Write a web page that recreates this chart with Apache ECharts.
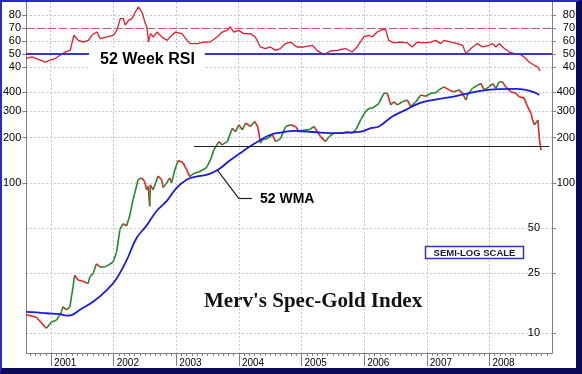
<!DOCTYPE html>
<html><head><meta charset="utf-8">
<script src="https://cdn.jsdelivr.net/npm/echarts@6/dist/echarts.min.js"></script>
<style>
html,body{margin:0;padding:0;background:#fff;}
#wrap{position:relative;width:582px;height:374px;overflow:hidden;background:#fff;}
#chart{position:absolute;left:0;top:0;width:582px;height:374px;}
#frame{position:absolute;left:0;top:0;width:582px;height:374px;box-sizing:border-box;border-left:2px solid #2a2ac8;border-top:2px solid #2a2ac8;border-right:6px solid #0b0b55;border-bottom:6px solid #0b0b55;pointer-events:none;}
</style></head>
<body><div id="wrap"><div id="chart"></div><div id="frame"></div></div>
<script>
// ---- data (decimal years) ----
const priceDates = [2000.605,2000.765,2000.925,2001.005,2001.085,2001.165,2001.19,2001.245,2001.30,2001.35,2001.375,2001.43,2001.51,2001.59,2001.62,2001.67,2001.725,2001.78,2001.855,2001.91,2001.99,2002.045,2002.10,2002.15,2002.205,2002.255,2002.31,2002.39,2002.445,2002.495,2002.525,2002.55,2002.575,2002.585,2002.63,2002.71,2002.765,2002.79,2002.845,2002.895,2002.925,2002.975,2003.03,2003.11,2003.165,2003.215,2003.27,2003.375,2003.48,2003.545,2003.60,2003.68,2003.73,2003.815,2003.895,2003.945,2004.00,2004.055,2004.105,2004.185,2004.25,2004.30,2004.345,2004.37,2004.455,2004.535,2004.585,2004.665,2004.745,2004.825,2004.905,2004.96,2005.04,2005.12,2005.20,2005.25,2005.305,2005.385,2005.44,2005.52,2005.625,2005.73,2005.81,2005.865,2005.945,2006.025,2006.08,2006.13,2006.235,2006.315,2006.37,2006.425,2006.475,2006.53,2006.61,2006.69,2006.745,2006.825,2006.905,2006.985,2007.065,2007.145,2007.195,2007.275,2007.355,2007.435,2007.515,2007.57,2007.625,2007.65,2007.73,2007.81,2007.865,2007.915,2007.995,2008.05,2008.105,2008.155,2008.21,2008.26,2008.34,2008.425,2008.475,2008.555,2008.61,2008.665,2008.69,2008.72,2008.775,2008.80,2008.825];
const priceValues = [13.3,12.8,10.8,11.9,12.2,13.9,15.0,14.3,15.0,20.3,24.3,22.6,22.2,21.4,23.8,24.9,29.0,27.6,27.6,28.3,29.8,34.5,49,53.6,51.7,60.2,77.6,105,108,102,90,95,70,97,90,111,105,93,100,108,100,122,141,136,122,110,115,119,126,142,166,188,179,188,231,219,243,225,250,237,256,237,184,193,197,209,188,197,237,243,237,219,225,225,237,219,203,188,203,214,214,219,214,225,262,300,313,313,338,394,394,330,346,330,346,355,321,346,384,377,394,397,415,435,415,404,415,394,355,384,425,446,458,415,435,458,425,469,469,435,404,394,374,366,321,290,262,243,262,193,165];

const wmaDates = [2000.605,2000.765,2000.925,2001.14,2001.245,2001.325,2001.455,2001.67,2001.885,2002.045,2002.205,2002.365,2002.525,2002.685,2002.845,2003.005,2003.165,2003.32,2003.48,2003.66,2003.865,2004.025,2004.13,2004.345,2004.505,2004.665,2004.88,2005.09,2005.305,2005.52,2005.73,2005.945,2006.105,2006.235,2006.45,2006.665,2006.875,2007.09,2007.355,2007.625,2007.89,2008.155,2008.425,2008.58,2008.74,2008.795];
const wmaValues = [13.9,13.8,13.6,13.4,13.1,13.2,14.3,16.2,19.3,23.1,30.5,43,52,65,75.6,92.7,105,110,113,122,142,158,170,193,209,216,222,219,216,214,216,219,231,237,276,306,338,355,370,390,410,420,422,415,397,384];

const rsiDates = [2000.605,2000.70,2000.775,2000.91,2000.99,2001.07,2001.15,2001.23,2001.31,2001.37,2001.44,2001.52,2001.60,2001.655,2001.735,2001.79,2001.895,2002.00,2002.055,2002.11,2002.16,2002.19,2002.24,2002.295,2002.35,2002.40,2002.455,2002.51,2002.535,2002.56,2002.59,2002.64,2002.695,2002.775,2002.855,2002.935,2002.99,2003.095,2003.175,2003.225,2003.335,2003.44,2003.545,2003.655,2003.735,2003.815,2003.865,2003.92,2004.00,2004.08,2004.185,2004.265,2004.345,2004.425,2004.505,2004.585,2004.665,2004.745,2004.825,2004.93,2005.04,2005.175,2005.25,2005.36,2005.465,2005.57,2005.705,2005.81,2005.89,2005.995,2006.075,2006.13,2006.21,2006.29,2006.345,2006.395,2006.475,2006.585,2006.69,2006.77,2006.85,2006.955,2007.065,2007.145,2007.225,2007.275,2007.385,2007.495,2007.575,2007.625,2007.705,2007.81,2007.89,2007.995,2008.05,2008.105,2008.155,2008.24,2008.32,2008.40,2008.475,2008.555,2008.635,2008.72,2008.775,2008.81];
const rsiValues = [46.5,47.7,46.5,43.8,45.2,46.5,49,51.5,52.8,64.4,60.5,59.2,60.5,64.4,66.9,61.8,63.1,64.4,68.2,77.2,77.2,72.1,75.9,77.2,82.3,86.2,82.3,73.4,70.8,59.2,65.7,63.1,66.9,63.1,60.5,64.4,66.9,65.7,60.5,58,58,59.2,59.2,63.1,66.9,68.2,70.8,66.9,68.2,65.7,65.7,63.1,55.4,54.2,55.4,52.8,54.2,58,59.2,55.4,55.4,56.7,52.8,49.5,52.3,52.8,54.2,51.5,55.4,63.1,64.4,63.1,66.9,68.7,68.7,60.5,58.5,59.2,58.5,55.4,59.2,58.5,59.2,60.5,58,60.5,59.2,58,56.7,50.3,54.2,58,55.4,56.7,58,55.4,58,54.2,51.5,50.3,50.3,47.7,43.8,41.3,40,37];

const yearTicks = [2001,2002,2003,2004,2005,2006,2007,2008];
const rsiTicks = [40,50,60,70,80];
const priceTicksOuter = [100,200,300,400];
const priceTicksInner = [10,25,50];
const rsiLevels = [50,70];
const supportLevel = 176;
const supportStart = 2003.28;

// ---- derived ----
const X_MIN = 2000.605, X_MAX = 2009.0;
const P_MIN = 7.4, P_MAX = 483;
const GREEN = '#23892c', RED = '#e42424';
const priceSegs = [];
for (let i = 1; i < priceDates.length; i++) {
  priceSegs.push([priceDates[i-1], priceValues[i-1], priceDates[i], priceValues[i]]);
}
const monthTicks = [];
for (let y = 2000; y < 2009; y++) for (let m = 1; m < 12; m++) {
  const v = y + m / 12; if (v > X_MIN && v < X_MAX) monthTicks.push(v);
}
const rsiData = rsiDates.map((d, i) => [d, rsiValues[i]]);
const wmaData = wmaDates.map((d, i) => [d, wmaValues[i]]);

const FONT = 'Arial, "Liberation Sans", sans-serif';
const AX = '#808080';
const dotted = {show: true, lineStyle: {color: '#c4c4c4', type: [2, 2], width: 1}};
const lbl = {color: '#000', fontSize: 11, fontFamily: FONT};

const chart = echarts.init(document.getElementById('chart'), null, {renderer: 'canvas'});
chart.setOption({
  animation: false,
  backgroundColor: 'transparent',
  grid: [
    {left: 26, right: 30, top: 2, height: 78},
    {left: 26, right: 30, top: 80, height: 273}
  ],
  xAxis: [
    {gridIndex: 0, type: 'value', min: X_MIN, max: X_MAX, axisLine: {show: false},
     axisTick: {show: false, customValues: yearTicks}, axisLabel: {show: false, customValues: yearTicks}, splitLine: dotted},
    {gridIndex: 1, type: 'value', position: 'bottom', min: X_MIN, max: X_MAX,
     axisLine: {show: true, lineStyle: {color: AX}},
     axisTick: {show: true, customValues: yearTicks, length: 13, lineStyle: {color: AX}},
     axisLabel: {show: true, customValues: yearTicks, align: 'left', margin: 5, padding: [0,0,0,3],
       color: '#000', fontSize: 10, fontFamily: FONT, formatter: v => String(Math.round(v))},
     splitLine: dotted},
    {gridIndex: 1, type: 'value', position: 'bottom', min: X_MIN, max: X_MAX,
     axisLine: {show: false}, axisTick: {show: true, customValues: monthTicks, length: 3, lineStyle: {color: AX}},
     axisLabel: {show: false, customValues: monthTicks}, splitLine: {show: false}}
  ],
  yAxis: [
    {gridIndex: 0, type: 'value', position: 'left', min: 30, max: 90,
     axisLine: {show: true, lineStyle: {color: AX}},
     axisTick: {show: true, customValues: rsiTicks, length: 4, lineStyle: {color: AX}},
     axisLabel: Object.assign({customValues: rsiTicks, margin: 5}, lbl), splitLine: dotted},
    {gridIndex: 0, type: 'value', position: 'right', min: 30, max: 90,
     axisLine: {show: true, lineStyle: {color: AX}},
     axisTick: {show: true, customValues: rsiTicks, length: 4, lineStyle: {color: AX}},
     axisLabel: Object.assign({customValues: rsiTicks, margin: 23, align: 'right'}, lbl), splitLine: {show: false}},
    {gridIndex: 1, type: 'log', logBase: 10, position: 'left', min: P_MIN, max: P_MAX,
     axisLine: {show: true, lineStyle: {color: AX}},
     axisTick: {show: true, customValues: priceTicksOuter, length: 4, lineStyle: {color: AX}},
     axisLabel: Object.assign({customValues: priceTicksOuter, margin: 5}, lbl), splitLine: dotted},
    {gridIndex: 1, type: 'log', logBase: 10, position: 'right', min: P_MIN, max: P_MAX,
     axisLine: {show: true, lineStyle: {color: AX}},
     axisTick: {show: true, customValues: priceTicksOuter, length: 4, lineStyle: {color: AX}},
     axisLabel: Object.assign({customValues: priceTicksOuter, margin: 23, align: 'right'}, lbl), splitLine: {show: false}},
    {gridIndex: 1, type: 'log', logBase: 10, position: 'right', min: P_MIN, max: P_MAX,
     axisLine: {show: false},
     axisTick: {show: true, customValues: priceTicksInner, length: 4, lineStyle: {color: AX}},
     axisLabel: Object.assign({customValues: priceTicksInner, inside: true, margin: 12}, lbl), splitLine: dotted}
  ],
  series: [
    {type: 'line', name: 'RSI', xAxisIndex: 0, yAxisIndex: 0, data: rsiData, symbol: 'none',
     lineStyle: {color: '#e8192c', width: 1.3}, z: 3,
     markLine: {silent: true, symbol: ['none', 'none'], label: {show: false}, animation: false,
       data: [
         {yAxis: rsiLevels[0], lineStyle: {color: '#3636c8', width: 2, type: 'solid'}},
         {yAxis: rsiLevels[1], lineStyle: {color: '#d6506c', width: 1, type: [8, 3]}}
       ]}},
    {type: 'custom', name: 'Price', xAxisIndex: 1, yAxisIndex: 2, data: priceSegs,
     encode: {x: [0, 2], y: [1, 3]}, z: 3,
     renderItem: function (params, api) {
       const a = api.coord([api.value(0), api.value(1)]);
       const b = api.coord([api.value(2), api.value(3)]);
       return {type: 'line', shape: {x1: a[0], y1: a[1], x2: b[0], y2: b[1]},
         style: {stroke: api.value(3) >= api.value(1) ? GREEN : RED, lineWidth: 1.6}};
     }},
    {type: 'line', name: '52 WMA', xAxisIndex: 1, yAxisIndex: 2, data: wmaData, symbol: 'none', smooth: 0.4,
     lineStyle: {color: '#1c1ce0', width: 1.8}, z: 4,
     markLine: {silent: true, symbol: ['none', 'none'], label: {show: false}, animation: false,
       lineStyle: {color: '#222', width: 1.2, type: 'solid'},
       data: [
         [{coord: [supportStart, supportLevel]}, {coord: [X_MAX - 0.04, supportLevel]}],
         [{coord: [2003.65, 122.5]}, {coord: [2004.0, 78.7]}],
         [{coord: [2004.0, 78.7]}, {coord: [2004.21, 78.7]}]
       ]}}
  ],
  graphic: [
    {type: 'text', x: 89, y: 60, z: 100, style: {text: '52 Week RSI', font: 'bold 16px ' + FONT, fill: '#000',
      backgroundColor: '#fff', padding: [3, 10, 3, 11], verticalAlign: 'middle', align: 'left'}},
    {type: 'text', x: 260, y: 199, z: 100, style: {text: '52 WMA', font: 'bold 14px ' + FONT, fill: '#000',
      verticalAlign: 'middle', align: 'left'}},
    {type: 'rect', z: 100, shape: {x: 425.5, y: 246.5, width: 98, height: 12},
      style: {fill: '#fff', stroke: '#3232c0', lineWidth: 1.5}},
    {type: 'text', x: 474.5, y: 253, z: 101, style: {text: 'SEMI-LOG SCALE', font: 'bold 9.5px ' + FONT, fill: '#1a1a40',
      verticalAlign: 'middle', align: 'center'}},
    {type: 'text', x: 204, y: 302, z: 100, style: {text: "Merv's Spec-Gold Index", font: 'bold 21px "Liberation Serif", "Times New Roman", serif',
      fill: '#111', verticalAlign: 'middle', align: 'left'}}
  ]
});
</script>
</body></html>
